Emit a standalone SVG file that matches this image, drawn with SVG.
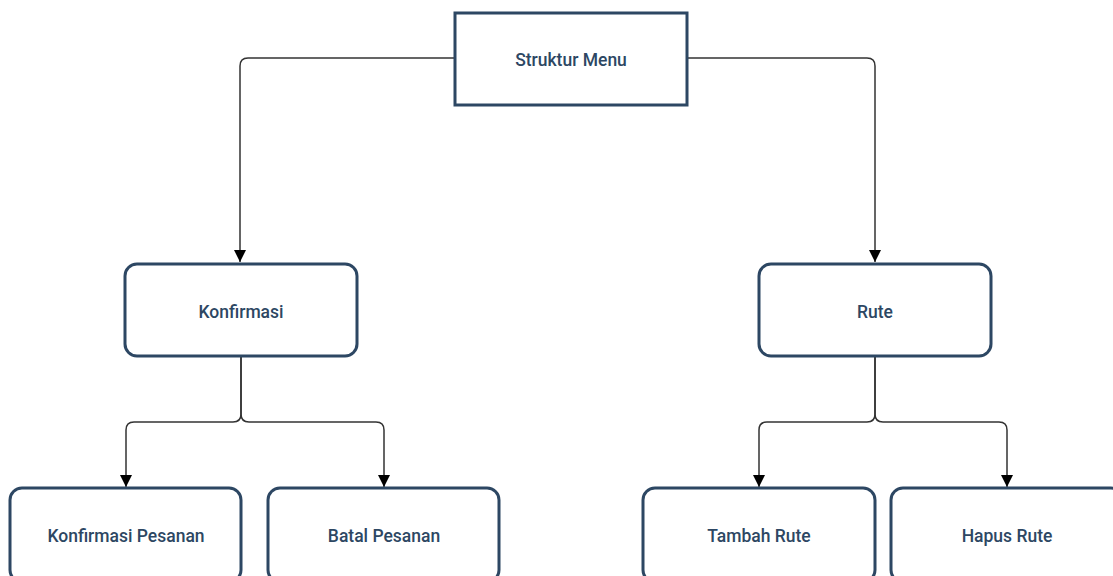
<svg xmlns="http://www.w3.org/2000/svg" width="1113" height="576" viewBox="0 0 1113 576">
<defs>
<style>
.box{fill:#fff;stroke:#2d4763;stroke-width:3}
.lbl{font-family:Roboto,"Open Sans","Liberation Sans",sans-serif;font-size:17.5px;font-weight:500;fill:#2d4763;text-anchor:middle;dominant-baseline:central}
.con{fill:none;stroke:#333;stroke-width:1.5}
</style>
<marker id="arr" viewBox="0 0 12 12" refX="12" refY="6" markerWidth="12" markerHeight="12" markerUnits="userSpaceOnUse" orient="auto">
<path d="M0,0 L12,6 L0,12 Z" fill="#000"/>
</marker>
</defs>
<rect width="1113" height="576" fill="#fff"/>
<g id="connectors">
<path class="con" marker-end="url(#arr)" d="M455 58 H248 Q240 58 240 66 V262"/>
<path class="con" marker-end="url(#arr)" d="M687 58 H867 Q875 58 875 66 V262"/>
<path class="con" marker-end="url(#arr)" d="M241 356 V414 Q241 422 233 422 H134 Q126 422 126 430 V487"/>
<path class="con" marker-end="url(#arr)" d="M241 356 V414 Q241 422 249 422 H376 Q384 422 384 430 V487"/>
<path class="con" marker-end="url(#arr)" d="M875 356 V414 Q875 422 867 422 H767 Q759 422 759 430 V487"/>
<path class="con" marker-end="url(#arr)" d="M875 356 V414 Q875 422 883 422 H999 Q1007 422 1007 430 V487"/>
</g>
<g id="struktur-menu">
<rect class="box" x="455" y="13" width="232" height="92"/>
<text class="lbl" x="571" y="60">Struktur Menu</text>
</g>
<g id="konfirmasi">
<rect class="box" x="125" y="264" width="232" height="92" rx="12"/>
<text class="lbl" x="241" y="312">Konfirmasi</text>
</g>
<g id="rute">
<rect class="box" x="759" y="264" width="232" height="92" rx="12"/>
<text class="lbl" x="875" y="312">Rute</text>
</g>
<g id="konfirmasi-pesanan">
<rect class="box" x="10" y="488" width="231" height="94" rx="12"/>
<text class="lbl" x="126" y="536">Konfirmasi Pesanan</text>
</g>
<g id="batal-pesanan">
<rect class="box" x="268" y="488" width="231" height="94" rx="12"/>
<text class="lbl" x="384" y="536">Batal Pesanan</text>
</g>
<g id="tambah-rute">
<rect class="box" x="643" y="488" width="232" height="94" rx="12"/>
<text class="lbl" x="759" y="536">Tambah Rute</text>
</g>
<g id="hapus-rute">
<rect class="box" x="891" y="488" width="232" height="94" rx="12"/>
<text class="lbl" x="1007" y="536">Hapus Rute</text>
</g>
</svg>
